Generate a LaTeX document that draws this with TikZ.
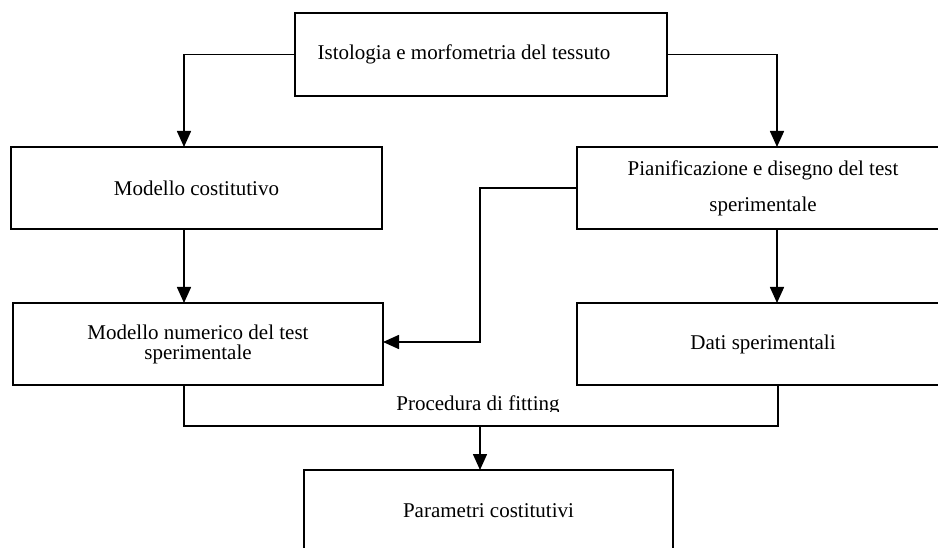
\documentclass[tikz,border=0pt]{standalone}
\usepackage{fontspec}
\setmainfont{Liberation Serif}
\usetikzlibrary{arrows.meta}
\begin{document}
\begin{tikzpicture}[x=1pt,y=-1pt,
  box/.style={draw, line width=1.6pt, rectangle, inner sep=0pt, outer sep=0pt,
    minimum height=82pt, align=center, font=\fontsize{21}{24}\selectfont},
  conn/.style={line width=1.6pt},
  arr/.style={line width=1.6pt, -{Triangle[length=16pt,width=14pt]}},
  lbl/.style={font=\fontsize{21}{24}\selectfont, inner sep=0pt}]
\useasboundingbox (0,0) rectangle (938,548);
\clip (0,0) rectangle (938,548);
\node[box, minimum width=372pt, minimum height=83pt, anchor=west, align=left, inner xsep=20pt] (top) at (295,54.5) {Istologia e morfometria del tessuto\hspace*{34pt}};
\node[box, minimum width=371pt] (L1) at (196.5,188) {Modello costitutivo};
\node[box, minimum width=370pt, font=\fontsize{21}{20}\selectfont] (L2) at (198,344) {Modello numerico del test\\sperimentale};
\node[box, minimum width=372pt, font=\fontsize{21}{36}\selectfont] (R1) at (763,188) {Pianificazione e disegno del test\\sperimentale};
\node[box, minimum width=372pt] (R2) at (763,344) {Dati sperimentali};
\node[box, minimum width=369pt] (B) at (488.5,511) {Parametri costitutivi};
\begin{scope}
\clip (380,380) rectangle (600,411);
\node[lbl, anchor=base] (fitlbl) at (478,410) {Procedura di fitting};
\end{scope}
\draw[arr] (top.west) -| ([xshift=-12.5pt]L1.north);
\draw[arr] (top.east) -| ([xshift=14pt]R1.north);
\draw[arr] ([xshift=-12.5pt]L1.south) -- ([xshift=-14pt]L2.north);
\draw[arr] ([xshift=14pt]R1.south) -- ([xshift=14pt]R2.north);
\draw[arr] (R1.west) -- ++(-97,0) |- ([yshift=2pt]L2.east);
\draw[conn] ([xshift=-14pt]L2.south) -- ++(0,41) coordinate (fl) -| ([xshift=15pt]R2.south);
\coordinate (fit) at ([xshift=-8.5pt]B.north |- fl);
\draw[arr] (fit) -- ([xshift=-8.5pt]B.north);
\end{tikzpicture}
\end{document}
